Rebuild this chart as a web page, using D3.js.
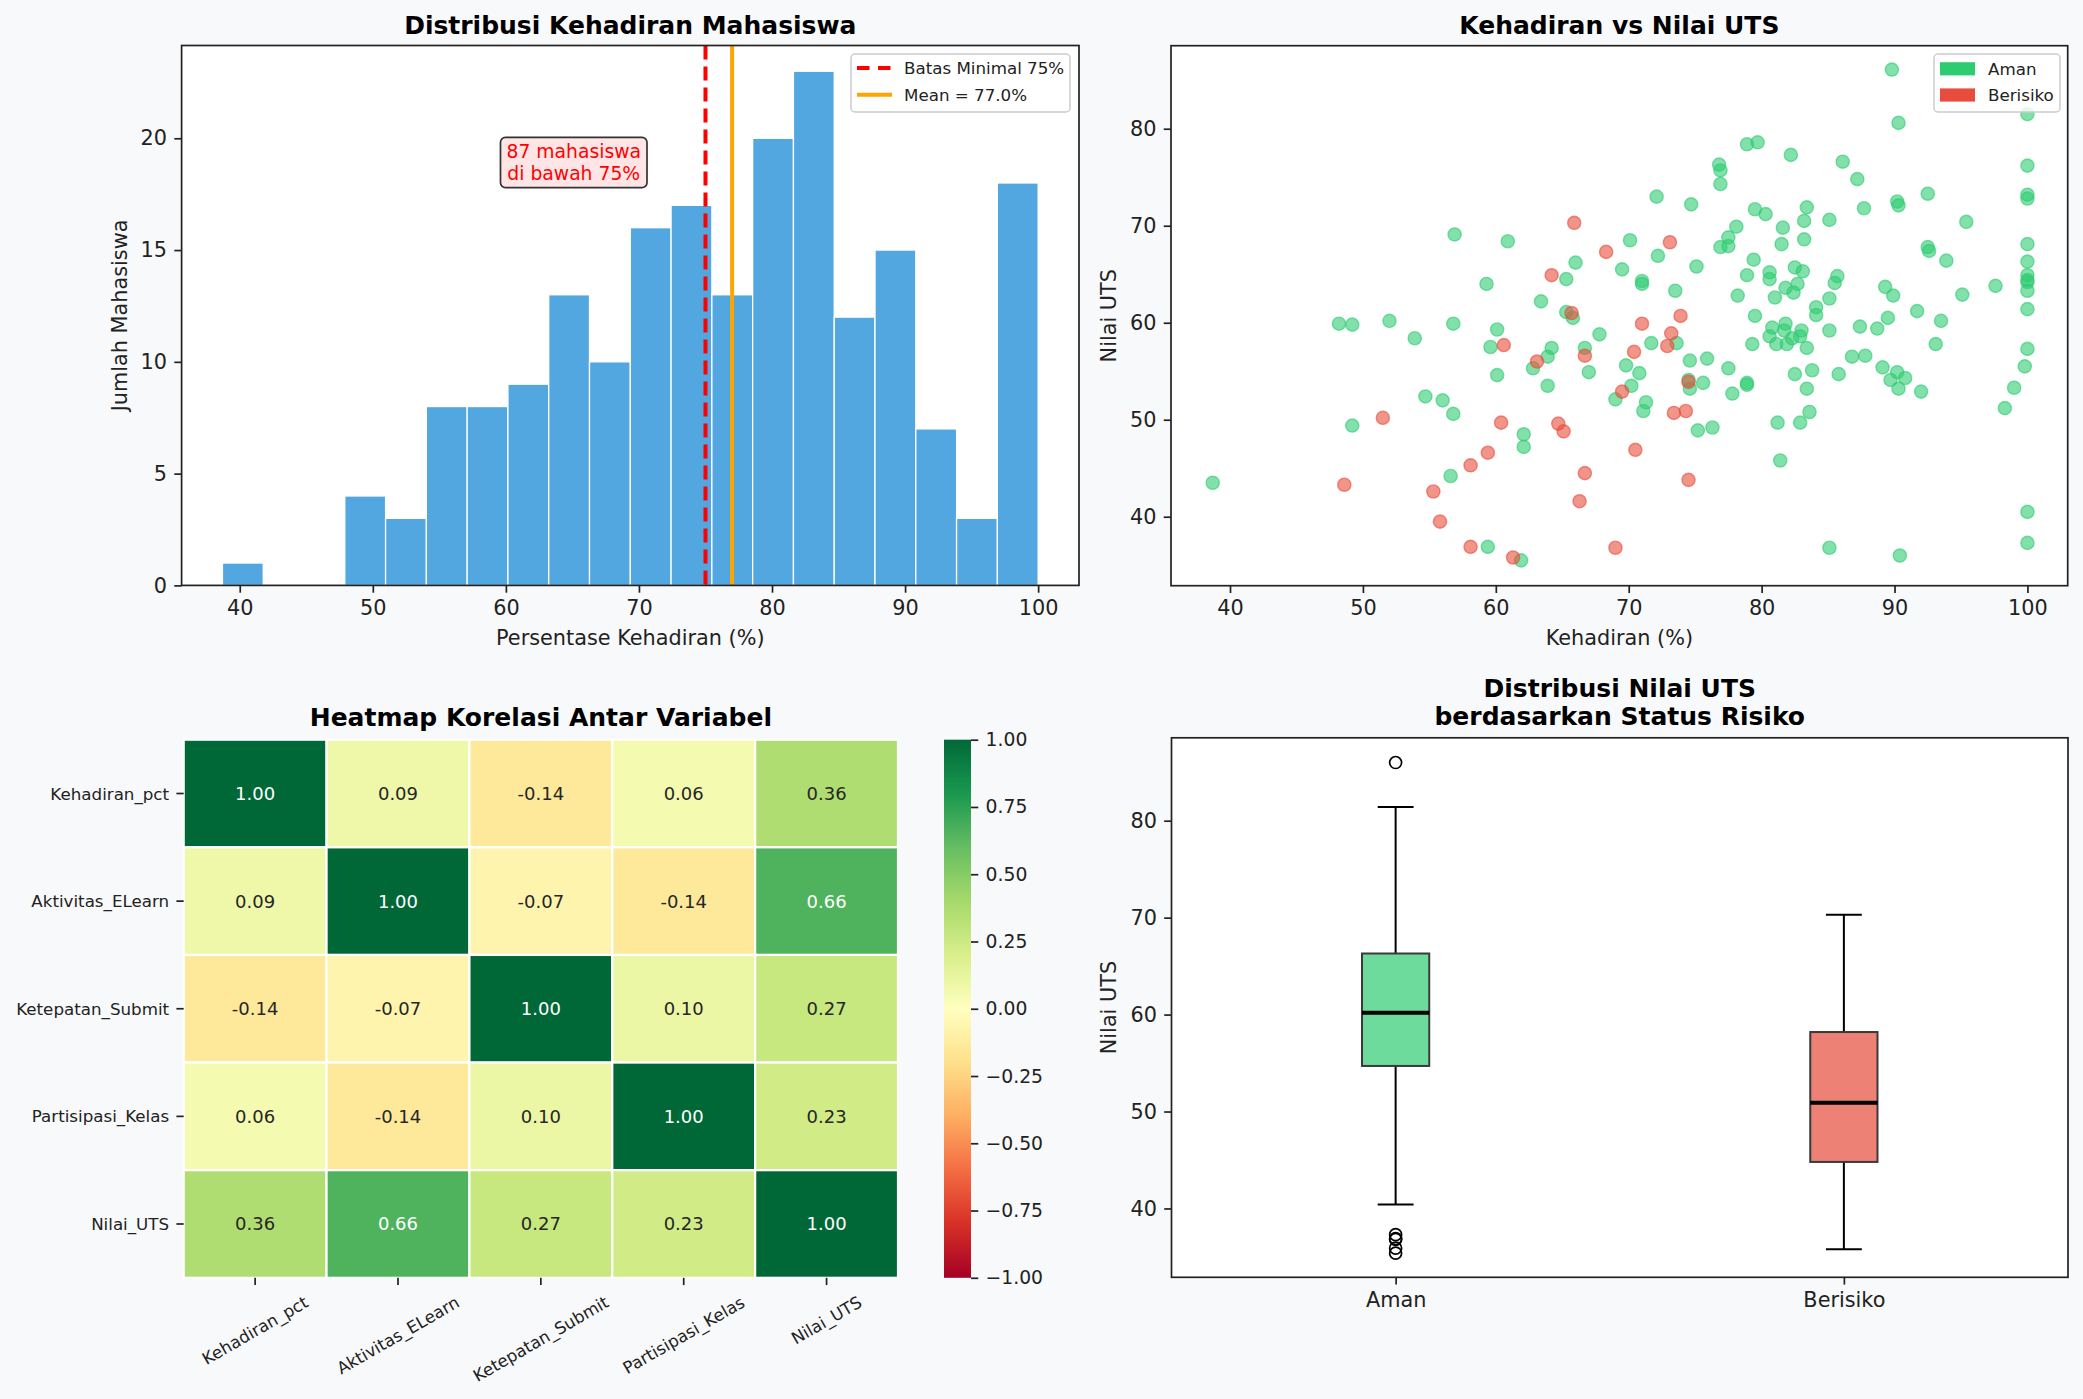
<!DOCTYPE html>
<html>
<head>
<meta charset="utf-8">
<script src="https://cdn.jsdelivr.net/npm/d3@7"></script>
<style>
body{margin:0;background:#f8f9fa;}
svg{display:block;}
text{font-family:"DejaVu Sans",sans-serif;}
</style>
</head>
<body>
<div id="container"></div>
<script>
let w = 2083;
let h = 1399;

///////////////// data: histogram kehadiran
let histCounts = [1,0,0,4,3,8,8,9,13,10,16,17,13,20,23,12,15,7,3,18];
let histMin = 38.7;
let histMax = 100;
let batasMinimal = 75;
let meanKehadiran = 77.0;
let jumlahDiBawah = 87;
let histXTicks = [40,50,60,70,80,90,100];
let histYTicks = [0,5,10,15,20];

///////////////// data: scatter kehadiran vs nilai
let amanKehadiran = [56.9,60.9,66.0,65.3,59.3,63.4,65.3,65.8,
  48.2,49.2,52.0,56.8,60.1,67.8,53.9,59.6,64.2,63.9,66.7,62.8,60.1,67.0,63.9,54.7,56.0,56.8,49.2,62.1,62.1,56.6,59.4,61.9,38.7,
  89.8,90.3,100,100,78.9,79.7,82.2,86.1,76.8,76.9,76.9,87.2,100,100,92.5,72.1,74.7,90.2,90.3,79.5,80.3,83.4,87.7,83.2,85.1,81.6,78.1,95.4,
  77.5,76.9,77.5,81.5,83.2,70.1,72.2,75.1,69.5,71.0,71.0,73.5,79.4,78.9,80.6,80.6,82.5,83.1,82.7,81.8,82.4,85.7,85.5,85.1,84.1,84.1,
  78.2,81.0,79.5,92.5,92.6,93.9,100,100,100,100,100,100,100,89.3,89.9,91.7,95.1,97.6,89.5,
  80.8,81.8,81.7,83.0,85.1,87.4,88.7,93.5,80.6,81.1,81.9,82.3,82.9,83.4,79.3,93.1,100,99.8,99.0,98.3,
  73.6,71.7,69.8,70.8,70.2,69.0,71.3,71.1,74.6,75.9,74.5,74.6,75.6,75.2,76.3,77.5,77.8,78.9,78.9,82.5,83.8,83.4,85.8,86.8,87.8,
  89.1,90.2,90.8,89.7,90.3,92.0,81.2,82.9,83.6,81.4,85.1,90.4,100,100];
let amanNilai = [69.1,68.4,66.2,64.5,64.0,62.2,61.1,60.5,
  59.9,59.8,60.2,59.9,59.3,58.8,58.4,57.5,57.4,56.5,57.4,55.3,54.6,54.9,53.5,52.4,52.0,50.6,49.4,48.5,47.2,44.2,36.9,35.5,43.5,
  86.1,80.6,81.5,76.2,78.4,78.6,77.3,76.6,76.3,75.7,74.3,74.8,73.2,72.8,73.3,73.0,72.2,72.5,72.1,71.7,71.2,71.9,71.8,70.5,70.6,69.8,69.9,70.4,
  68.8,67.8,67.9,68.1,68.6,68.5,66.9,65.8,65.5,64.3,64.0,63.3,66.5,64.9,65.2,64.5,65.7,65.3,64.0,63.6,63.1,64.8,64.1,62.5,61.6,60.8,
  62.8,62.6,60.7,67.8,67.4,66.4,68.1,66.3,64.9,64.4,64.2,63.3,61.4,63.7,62.8,61.2,62.9,63.8,60.5,
  59.5,59.9,59.2,59.2,59.2,59.6,59.4,60.2,58.6,57.8,57.8,58.4,58.6,57.4,57.8,57.8,57.3,55.5,53.3,51.2,
  57.9,57.9,55.6,54.8,53.5,52.1,51.8,50.9,56.1,56.3,54.1,53.2,53.8,48.9,49.2,55.3,52.7,53.8,53.6,54.7,55.1,53.2,54.7,56.5,56.6,
  55.4,54.9,54.3,54.1,53.2,52.9,49.7,49.7,50.8,45.8,36.8,36.0,40.5,37.3];
let berisikoKehadiran = [65.9,68.3,64.2,65.7,60.6,66.7,63.1,51.5,60.4,64.7,65.1,59.4,58.1,55.3,66.7,66.3,55.8,58.1,61.3,48.6,69.0,
  73.1,73.9,71.0,73.2,72.9,70.4,69.5,74.5,73.4,74.3,70.5,74.5];
let berisikoNilai = [70.3,67.3,64.9,61.0,57.7,56.6,56.0,50.2,49.7,49.6,48.8,46.6,45.3,42.6,44.5,41.6,39.5,36.9,35.8,43.3,36.8,
  68.3,60.7,59.9,58.9,57.6,57.0,52.9,53.9,50.7,50.9,46.9,43.8];
let scatterXTicks = [40,50,60,70,80,90,100];
let scatterYTicks = [40,50,60,70,80];

///////////////// data: korelasi
let variabel = ["Kehadiran_pct","Aktivitas_ELearn","Ketepatan_Submit","Partisipasi_Kelas","Nilai_UTS"];
let korelasi = [
  [1.00, 0.09, -0.14, 0.06, 0.36],
  [0.09, 1.00, -0.07, -0.14, 0.66],
  [-0.14, -0.07, 1.00, 0.10, 0.27],
  [0.06, -0.14, 0.10, 1.00, 0.23],
  [0.36, 0.66, 0.27, 0.23, 1.00]
];
let cbarTicks = [-1,-0.75,-0.5,-0.25,0,0.25,0.5,0.75,1];
// matplotlib RdYlGn
let rdylgn = ["#a50026","#d73027","#f46d43","#fdae61","#fee08b","#ffffbf","#d9ef8b","#a6d96a","#66bd63","#1a9850","#006837"];

///////////////// data: boxplot
let statusKategori = ["Aman","Berisiko"];
let boxQ1 = [54.7, 44.8];
let boxMedian = [60.2, 50.9];
let boxQ3 = [66.3, 58.2];
let boxWhiskerLow = [40.4, 35.8];
let boxWhiskerHigh = [81.4, 70.3];
let boxOutliers = [[86.0, 37.3, 36.9, 36.8, 35.9, 35.4], []];
let boxFill = ["#2ecc71", "#e74c3c"];
let boxYTicks = [40,50,60,70,80];

let green = "#2ecc71";
let red = "#e74c3c";
let ink = "#222";

let viz = d3.select("#container")
  .append("svg")
    .attr("width", w)
    .attr("height", h)
    .style("background-color", "#f8f9fa");

///////////////// helpers
function styleAxis(g, size){
  g.select(".domain").remove();
  g.selectAll("line").attr("stroke", ink).attr("stroke-width", 1.7);
  g.selectAll("text").attr("fill", ink).style("font-size", size + "px")
    .style("font-family", '"DejaVu Sans", sans-serif');
}
function axesBg(a){
  viz.append("rect").attr("x", a.l).attr("y", a.t).attr("width", a.r - a.l).attr("height", a.b - a.t)
    .attr("fill", "white");
}
function spines(a){
  viz.append("rect").attr("x", a.l).attr("y", a.t).attr("width", a.r - a.l).attr("height", a.b - a.t)
    .attr("fill", "none").attr("stroke", ink).attr("stroke-width", 1.7);
}
function title(txt, x, y){
  viz.append("text").attr("x", x).attr("y", y).attr("text-anchor", "middle")
    .style("font-size", "25px").style("font-weight", "bold").attr("fill", "black").text(txt);
}
function xLabel(txt, x, y){
  viz.append("text").attr("x", x).attr("y", y).attr("text-anchor", "middle")
    .style("font-size", "20.8px").attr("fill", ink).text(txt);
}
function yLabel(txt, x, y){
  viz.append("text").attr("x", x).attr("y", y).attr("text-anchor", "middle")
    .attr("transform", "rotate(-90," + x + "," + y + ")")
    .style("font-size", "20.8px").attr("fill", ink).text(txt);
}

///////////////// 1. histogram
let A1 = {l: 181.6, r: 1079, t: 45.5, b: 585.4};
axesBg(A1);
let hx = d3.scaleLinear().domain([35.63, 103.07]).range([A1.l, A1.r]);
let hy = d3.scaleLinear().domain([0, 24.15]).range([A1.b, A1.t]);
let binW = (histMax - histMin) / histCounts.length;
let bins = histCounts.map(function(c, i){
  return {x0: histMin + i * binW, x1: histMin + (i + 1) * binW, n: c};
});
viz.append("g").selectAll("rect").data(bins.filter(function(d){ return d.n > 0; })).enter()
  .append("rect")
    .attr("x", function(d){ return hx(d.x0); })
    .attr("y", function(d){ return hy(d.n); })
    .attr("width", function(d){ return hx(d.x1) - hx(d.x0); })
    .attr("height", function(d){ return hy(0) - hy(d.n); })
    .attr("fill", "#3498db").attr("fill-opacity", 0.85)
    .attr("stroke", "white").attr("stroke-width", 1.3);

viz.append("line").attr("x1", hx(batasMinimal)).attr("x2", hx(batasMinimal)).attr("y1", A1.t).attr("y2", A1.b)
  .attr("stroke", "red").attr("stroke-width", 4).attr("stroke-dasharray", "14,7");
viz.append("line").attr("x1", hx(meanKehadiran)).attr("x2", hx(meanKehadiran)).attr("y1", A1.t).attr("y2", A1.b)
  .attr("stroke", "orange").attr("stroke-width", 4);

// annotation box
let annGroup = viz.append("g");
let annX = hx(65.1);
let annText = annGroup.append("text").attr("text-anchor", "middle").attr("fill", "red").style("font-size", "18.75px");
annText.append("tspan").attr("x", annX).attr("y", hy(19.1)).text(jumlahDiBawah + " mahasiswa");
annText.append("tspan").attr("x", annX).attr("y", hy(18.15)).text("di bawah " + batasMinimal + "%");
let bb = annText.node().getBBox();
annGroup.insert("rect", "text")
  .attr("x", bb.x - 6).attr("y", bb.y - 4).attr("width", bb.width + 12).attr("height", bb.height + 8)
  .attr("rx", 5).attr("fill", "#ffe5e5").attr("stroke", "#333").attr("stroke-width", 1.7);

spines(A1);
let hxAxis = viz.append("g").attr("transform", "translate(0," + A1.b + ")")
  .call(d3.axisBottom(hx).tickValues(histXTicks).tickSize(7.3).tickPadding(7.3).tickFormat(d3.format("d")));
styleAxis(hxAxis, 20.8);
let hyAxis = viz.append("g").attr("transform", "translate(" + A1.l + ",0)")
  .call(d3.axisLeft(hy).tickValues(histYTicks).tickSize(7.3).tickPadding(7.3).tickFormat(d3.format("d")));
styleAxis(hyAxis, 20.8);

// legend
let lg1 = viz.append("g");
lg1.append("rect").attr("x", 851).attr("y", 54).attr("width", 219).attr("height", 58).attr("rx", 4)
  .attr("fill", "white").attr("fill-opacity", 0.8).attr("stroke", "#ccc").attr("stroke-width", 1.5);
lg1.append("line").attr("x1", 857).attr("x2", 892).attr("y1", 68).attr("y2", 68)
  .attr("stroke", "red").attr("stroke-width", 4).attr("stroke-dasharray", "12.5,8.5");
lg1.append("line").attr("x1", 857).attr("x2", 892).attr("y1", 94.7).attr("y2", 94.7)
  .attr("stroke", "orange").attr("stroke-width", 4);
lg1.append("text").attr("x", 904).attr("y", 68).attr("dy", "0.36em").style("font-size", "16.7px").attr("fill", ink)
  .text("Batas Minimal " + batasMinimal + "%");
lg1.append("text").attr("x", 904).attr("y", 94.7).attr("dy", "0.36em").style("font-size", "16.7px").attr("fill", ink)
  .text("Mean = " + meanKehadiran.toFixed(1) + "%");

title("Distribusi Kehadiran Mahasiswa", (A1.l + A1.r) / 2, 33.5);
xLabel("Persentase Kehadiran (%)", (A1.l + A1.r) / 2, 645);
yLabel("Jumlah Mahasiswa", 127.3, (A1.t + A1.b) / 2);

///////////////// 2. scatter
let A2 = {l: 1171, r: 2067.7, t: 45.7, b: 585.7};
axesBg(A2);
let sx = d3.scaleLinear().domain([35.56, 103.03]).range([A2.l, A2.r]);
let sy = d3.scaleLinear().domain([32.89, 88.56]).range([A2.b, A2.t]);

function drawPoints(xs, ys, col){
  viz.append("g").selectAll("circle").data(xs).enter()
    .append("circle")
      .attr("cx", function(d){ return sx(d); })
      .attr("cy", function(d, i){ return sy(ys[i]); })
      .attr("r", 6.6)
      .attr("fill", col).attr("fill-opacity", 0.6)
      .attr("stroke", col).attr("stroke-opacity", 0.6).attr("stroke-width", 1.4);
}
drawPoints(amanKehadiran, amanNilai, green);
drawPoints(berisikoKehadiran, berisikoNilai, red);

spines(A2);
let sxAxis = viz.append("g").attr("transform", "translate(0," + A2.b + ")")
  .call(d3.axisBottom(sx).tickValues(scatterXTicks).tickSize(7.3).tickPadding(7.3).tickFormat(d3.format("d")));
styleAxis(sxAxis, 20.8);
let syAxis = viz.append("g").attr("transform", "translate(" + A2.l + ",0)")
  .call(d3.axisLeft(sy).tickValues(scatterYTicks).tickSize(7.3).tickPadding(7.3).tickFormat(d3.format("d")));
styleAxis(syAxis, 20.8);

let lg2 = viz.append("g");
lg2.append("rect").attr("x", 1934).attr("y", 54).attr("width", 126).attr("height", 58).attr("rx", 4)
  .attr("fill", "white").attr("fill-opacity", 0.8).attr("stroke", "#ccc").attr("stroke-width", 1.5);
[["Aman", green], ["Berisiko", red]].forEach(function(item, i){
  let cy = 68.8 + i * 26.2;
  lg2.append("rect").attr("x", 1940).attr("y", cy - 6.6).attr("width", 35).attr("height", 13.2).attr("fill", item[1]);
  lg2.append("text").attr("x", 1988).attr("y", cy).attr("dy", "0.36em").style("font-size", "16.7px").attr("fill", ink)
    .text(item[0]);
});

title("Kehadiran vs Nilai UTS", (A2.l + A2.r) / 2, 33.5);
xLabel("Kehadiran (%)", (A2.l + A2.r) / 2, 645);
yLabel("Nilai UTS", 1116, (A2.t + A2.b) / 2);

///////////////// 3. heatmap
let A3 = {l: 183.7, r: 898, t: 739.7, b: 1277.8};
let colX = d3.scaleBand().domain(variabel).range([A3.l, A3.r]);
let rowY = d3.scaleBand().domain(variabel).range([A3.t, A3.b]);
let colorScale = d3.scaleLinear().domain(d3.range(11).map(function(i){ return -1 + i * 0.2; })).range(rdylgn);

let cells = [];
korelasi.forEach(function(row, i){
  row.forEach(function(v, j){ cells.push({r: variabel[i], c: variabel[j], v: v}); });
});
function textColor(v){
  let c = d3.rgb(colorScale(v));
  function lin(u){ u = u / 255; return u <= 0.03928 ? u / 12.92 : Math.pow((u + 0.055) / 1.055, 2.4); }
  let lum = 0.2126 * lin(c.r) + 0.7152 * lin(c.g) + 0.0722 * lin(c.b);
  return lum > 0.408 ? "#262626" : "white";
}
let cellGroups = viz.append("g").selectAll("g").data(cells).enter().append("g");
cellGroups.append("rect")
  .attr("x", function(d){ return colX(d.c); })
  .attr("y", function(d){ return rowY(d.r); })
  .attr("width", colX.bandwidth())
  .attr("height", rowY.bandwidth())
  .attr("fill", function(d){ return colorScale(d.v); })
  .attr("stroke", "white").attr("stroke-width", 2.2);
cellGroups.append("text")
  .attr("x", function(d){ return colX(d.c) + colX.bandwidth() / 2; })
  .attr("y", function(d){ return rowY(d.r) + rowY.bandwidth() / 2; })
  .attr("dy", "0.36em").attr("text-anchor", "middle")
  .style("font-size", "18px")
  .attr("fill", function(d){ return textColor(d.v); })
  .text(function(d){ return d.v.toFixed(2); });

// y labels
let hyTicks = viz.append("g");
variabel.forEach(function(name){
  let cy = rowY(name) + rowY.bandwidth() / 2;
  hyTicks.append("line").attr("x1", A3.l - 7.3).attr("x2", A3.l).attr("y1", cy).attr("y2", cy)
    .attr("stroke", ink).attr("stroke-width", 1.7);
  hyTicks.append("text").attr("x", A3.l - 14.6).attr("y", cy).attr("dy", "0.36em").attr("text-anchor", "end")
    .style("font-size", "16.7px").attr("fill", ink).text(name);
});
// x labels, rotated 30
variabel.forEach(function(name){
  let cx = colX(name) + colX.bandwidth() / 2;
  hyTicks.append("line").attr("x1", cx).attr("x2", cx).attr("y1", A3.b).attr("y2", A3.b + 7.3)
    .attr("stroke", ink).attr("stroke-width", 1.7);
  let t = hyTicks.append("text").attr("text-anchor", "middle").attr("dy", "0.346em")
    .style("font-size", "16.7px").attr("fill", ink).text(name);
  let tw = t.node().getComputedTextLength();
  let th = 16.7 * 1.164;
  let topY = A3.b + 14.6;
  let cy = topY + (tw * 0.5 + th * 0.866) / 2;
  t.attr("transform", "translate(" + cx + "," + cy + ") rotate(-30)");
});

// colorbar
let C = {l: 944, r: 971, t: 739.7, b: 1277.8};
let grad = viz.append("defs").append("linearGradient").attr("id", "cbar")
  .attr("x1", 0).attr("x2", 0).attr("y1", 1).attr("y2", 0);
rdylgn.forEach(function(c, i){
  grad.append("stop").attr("offset", (i * 10) + "%").attr("stop-color", c);
});
viz.append("rect").attr("x", C.l).attr("y", C.t).attr("width", C.r - C.l).attr("height", C.b - C.t)
  .attr("fill", "url(#cbar)");
let cy = d3.scaleLinear().domain([-1, 1]).range([C.b, C.t]);
let cAxis = viz.append("g").attr("transform", "translate(" + C.r + ",0)")
  .call(d3.axisRight(cy).tickValues(cbarTicks).tickSize(7.3).tickPadding(7.3).tickFormat(d3.format(".2f")));
styleAxis(cAxis, 18.75);

title("Heatmap Korelasi Antar Variabel", (A3.l + A3.r) / 2, 726);

///////////////// 4. boxplot
let A4 = {l: 1171.5, r: 2068, t: 737.8, b: 1277.3};
axesBg(A4);
let bx = d3.scaleLinear().domain([0.5, 2.5]).range([A4.l, A4.r]);
let by = d3.scaleLinear().domain([32.9, 88.55]).range([A4.b, A4.t]);
let boxHalf = (bx(1.075) - bx(1));
let capHalf = (bx(1.04) - bx(1));

statusKategori.forEach(function(k, i){
  let cx = bx(i + 1);
  let g = viz.append("g");
  // whiskers
  g.append("line").attr("x1", cx).attr("x2", cx).attr("y1", by(boxQ3[i])).attr("y2", by(boxWhiskerHigh[i]))
    .attr("stroke", "black").attr("stroke-width", 2);
  g.append("line").attr("x1", cx).attr("x2", cx).attr("y1", by(boxQ1[i])).attr("y2", by(boxWhiskerLow[i]))
    .attr("stroke", "black").attr("stroke-width", 2);
  g.append("line").attr("x1", cx - capHalf).attr("x2", cx + capHalf).attr("y1", by(boxWhiskerHigh[i])).attr("y2", by(boxWhiskerHigh[i]))
    .attr("stroke", "black").attr("stroke-width", 2);
  g.append("line").attr("x1", cx - capHalf).attr("x2", cx + capHalf).attr("y1", by(boxWhiskerLow[i])).attr("y2", by(boxWhiskerLow[i]))
    .attr("stroke", "black").attr("stroke-width", 2);
  // box
  g.append("rect").attr("x", cx - boxHalf).attr("y", by(boxQ3[i])).attr("width", boxHalf * 2)
    .attr("height", by(boxQ1[i]) - by(boxQ3[i]))
    .attr("fill", boxFill[i]).attr("fill-opacity", 0.7)
    .attr("stroke", "#3a3a3a").attr("stroke-width", 2);
  g.append("line").attr("x1", cx - boxHalf).attr("x2", cx + boxHalf).attr("y1", by(boxMedian[i])).attr("y2", by(boxMedian[i]))
    .attr("stroke", "black").attr("stroke-width", 4);
  g.selectAll("circle").data(boxOutliers[i]).enter().append("circle")
    .attr("cx", cx).attr("cy", function(d){ return by(d); }).attr("r", 6)
    .attr("fill", "none").attr("stroke", "black").attr("stroke-width", 1.7);
});

spines(A4);
let bxAxis = viz.append("g").attr("transform", "translate(0," + A4.b + ")")
  .call(d3.axisBottom(bx).tickValues([1, 2]).tickSize(7.3).tickPadding(7.3)
    .tickFormat(function(d){ return statusKategori[d - 1]; }));
styleAxis(bxAxis, 20.8);
let byAxis = viz.append("g").attr("transform", "translate(" + A4.l + ",0)")
  .call(d3.axisLeft(by).tickValues(boxYTicks).tickSize(7.3).tickPadding(7.3).tickFormat(d3.format("d")));
styleAxis(byAxis, 20.8);

title("Distribusi Nilai UTS", (A4.l + A4.r) / 2, 696.8);
title("berdasarkan Status Risiko", (A4.l + A4.r) / 2, 725.3);
yLabel("Nilai UTS", 1116, (A4.t + A4.b) / 2);
</script>
</body>
</html>
